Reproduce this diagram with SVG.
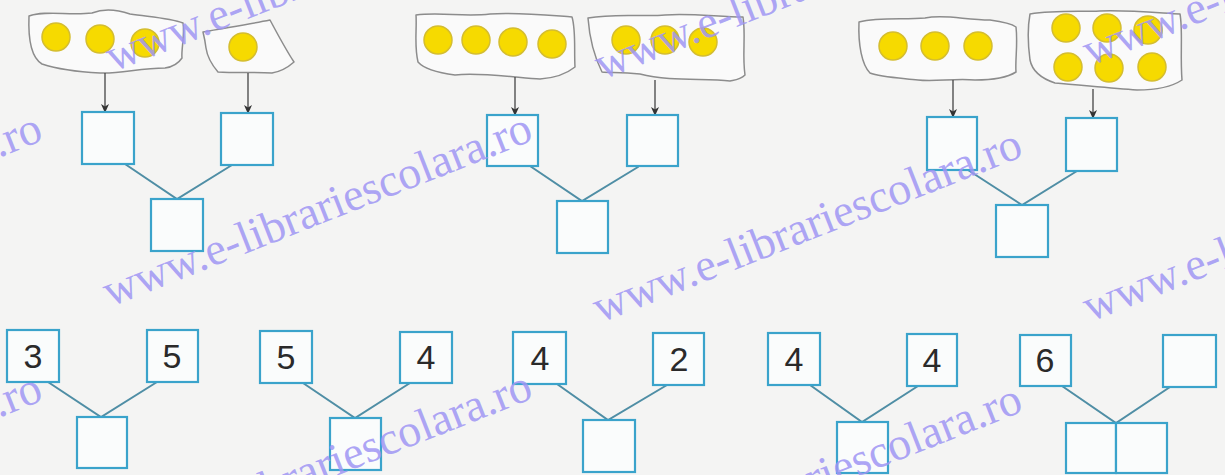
<svg xmlns="http://www.w3.org/2000/svg" width="1225" height="475" viewBox="0 0 1225 475">
<style>
.bg{fill:#f4f4f3}
.blob{fill:#fafafa;stroke:#8c8c8c;stroke-width:1.5;stroke-linejoin:round}
.dot{fill:#f6da00;stroke:#d4bd30;stroke-width:1.5}
.box{fill:#fafcfc;stroke:#3aa3cb;stroke-width:2.2}
.arr{stroke:#444;stroke-width:1.3;fill:none}
.link{stroke:#4f8ea5;stroke-width:2;fill:none;stroke-linecap:round}
.num{font-family:"Liberation Sans",Arial,sans-serif;font-size:34px;fill:#2a2a2a;text-anchor:middle}
.wm{font-family:"Liberation Serif","Times New Roman",serif;font-size:46px;fill:#9f96f4;fill-opacity:0.85}
</style>
<defs>
<marker id="ah" markerWidth="9" markerHeight="9" refX="8" refY="4.5" orient="auto" markerUnits="userSpaceOnUse">
<path d="M0,0.5 L9,4.5 L0,8.5 L2.5,4.5 Z" fill="#333"/>
</marker>
</defs>
<rect class="bg" x="0" y="0" width="1225" height="475"/>

<g id="set1a">
<path class="blob" d="M29,16 C45,10 70,16 92,13 C105,8 118,10 130,14 C150,17 170,18 183,23 C185,35 181,50 182,58 C178,64 172,67 165,68 C140,68 120,74 100,73 C80,72 60,70 42,64 C32,58 28,40 29,16 Z"/>
<circle class="dot" cx="56" cy="37" r="14"/><circle class="dot" cx="100" cy="39" r="14"/><circle class="dot" cx="145" cy="43" r="14"/>
</g>
<g id="set1b">
<path class="blob" d="M203,32 C225,28 250,24 270,20 C278,35 286,50 294,62 C285,70 278,72 272,73 C255,72 235,73 218,72 C212,65 207,55 206,48 C205,40 204,36 203,32 Z"/>
<circle class="dot" cx="243" cy="47" r="14"/>
</g>
<g id="set2a">
<path class="blob" d="M416,15 C440,12 465,17 490,14 C515,12 545,15 572,17 C576,30 574,50 575,67 C565,75 555,78 540,79 C520,78 480,72 455,75 C440,73 425,70 418,62 C414,45 417,30 416,15 Z"/>
<circle class="dot" cx="438" cy="40" r="14"/><circle class="dot" cx="476" cy="40" r="14"/><circle class="dot" cx="513" cy="42" r="14"/><circle class="dot" cx="552" cy="44" r="14"/>
</g>
<g id="set2b">
<path class="blob" d="M588,18 C615,13 645,17 665,15 C690,13 720,17 743,17 C746,35 742,55 745,75 C740,80 735,80 730,81 C705,78 670,82 640,74 C620,72 610,73 602,72 C596,60 590,45 588,18 Z"/>
<circle class="dot" cx="626" cy="40" r="14"/><circle class="dot" cx="665" cy="40" r="14"/><circle class="dot" cx="703" cy="42" r="14"/>
</g>
<g id="set3a">
<path class="blob" d="M859,22 C880,17 905,20 925,18 C945,14 965,20 990,20 C1005,22 1012,24 1016,27 C1018,45 1015,60 1016,72 C1005,79 990,80 975,80 C955,78 935,82 918,80 C900,78 880,77 870,73 C862,65 858,45 859,22 Z"/>
<circle class="dot" cx="893" cy="46" r="14"/><circle class="dot" cx="935" cy="46" r="14"/><circle class="dot" cx="978" cy="46" r="14"/>
</g>
<g id="set3b">
<path class="blob" d="M1030,14 C1055,10 1080,12 1100,11 C1130,10 1160,13 1180,14 C1183,30 1180,55 1182,80 C1170,88 1155,90 1137,90 C1110,88 1080,85 1055,83 C1040,78 1032,70 1030,60 C1028,45 1027,30 1030,14 Z"/>
<circle class="dot" cx="1066" cy="28" r="14"/><circle class="dot" cx="1107" cy="28" r="14"/><circle class="dot" cx="1148" cy="30" r="14"/>
<circle class="dot" cx="1068" cy="67" r="14"/><circle class="dot" cx="1109" cy="68" r="14"/><circle class="dot" cx="1152" cy="67" r="14"/>
</g>

<g id="connectors">
<line class="arr" x1="105" y1="73" x2="105" y2="112" marker-end="url(#ah)"/>
<line class="arr" x1="248" y1="73" x2="248" y2="113" marker-end="url(#ah)"/>
<line class="arr" x1="515" y1="77" x2="515" y2="115" marker-end="url(#ah)"/>
<line class="arr" x1="655" y1="80" x2="655" y2="115" marker-end="url(#ah)"/>
<line class="arr" x1="953" y1="80" x2="953" y2="117" marker-end="url(#ah)"/>
<line class="arr" x1="1093" y1="89" x2="1093" y2="118" marker-end="url(#ah)"/>
<path class="link" d="M125,164 L177,199 L232,165"/>
<path class="link" d="M530,166 L582,201 L638,167"/>
<path class="link" d="M968,170 L1022,205 L1077,171"/>
<path class="link" d="M48,382 L101,417 L157,382"/>
<path class="link" d="M303,383 L355,418 L410,383"/>
<path class="link" d="M557,384 L608,420 L667,385"/>
<path class="link" d="M810,385 L862,422 L918,386"/>
<path class="link" d="M1062,386 L1116,423 L1170,387"/>
</g>

<g id="tree1">
<rect class="box" x="82" y="112" width="52" height="52"/>
<rect class="box" x="221" y="113" width="52" height="52"/>
<rect class="box" x="151" y="199" width="52" height="52"/>
</g>
<g id="tree2">
<rect class="box" x="487" y="115" width="51" height="51"/>
<rect class="box" x="627" y="115" width="51" height="51"/>
<rect class="box" x="557" y="201" width="51" height="52"/>
</g>
<g id="tree3">
<rect class="box" x="927" y="117" width="50" height="53"/>
<rect class="box" x="1066" y="118" width="51" height="53"/>
<rect class="box" x="996" y="205" width="52" height="52"/>
</g>
<g id="tree4">
<rect class="box" x="7" y="330" width="52" height="52"/><text class="num" x="33" y="368">3</text>
<rect class="box" x="147" y="330" width="51" height="52"/><text class="num" x="172" y="368">5</text>
<rect class="box" x="77" y="417" width="50" height="51"/>
</g>
<g id="tree5">
<rect class="box" x="260" y="331" width="52" height="52"/><text class="num" x="286" y="369">5</text>
<rect class="box" x="400" y="332" width="52" height="51"/><text class="num" x="426" y="369">4</text>
<rect class="box" x="330" y="418" width="51" height="52"/>
</g>
<g id="tree6">
<rect class="box" x="513" y="332" width="53" height="52"/><text class="num" x="540" y="370">4</text>
<rect class="box" x="653" y="333" width="51" height="52"/><text class="num" x="679" y="371">2</text>
<rect class="box" x="583" y="420" width="52" height="52"/>
</g>
<g id="tree7">
<rect class="box" x="768" y="333" width="52" height="52"/><text class="num" x="794" y="371">4</text>
<rect class="box" x="907" y="334" width="50" height="52"/><text class="num" x="932" y="372">4</text>
<rect class="box" x="837" y="422" width="51" height="51"/>
</g>
<g id="tree8">
<rect class="box" x="1020" y="335" width="51" height="51"/><text class="num" x="1045" y="372">6</text>
<rect class="box" x="1163" y="335" width="53" height="52"/>
<rect class="box" x="1066" y="423" width="50" height="50"/>
<rect class="box" x="1116" y="423" width="51" height="50"/>
</g>

<g id="watermark">
<text class="wm" transform="translate(113,72) rotate(-21.5)">www.e-librariescolara.ro</text>
<text class="wm" transform="translate(602,80) rotate(-21.5)">www.e-librariescolara.ro</text>
<text class="wm" transform="translate(1090,66) rotate(-21.5)">www.e-librariescolara.ro</text>
<text class="wm" transform="translate(-380,307) rotate(-21.5)">www.e-librariescolara.ro</text>
<text class="wm" transform="translate(110,307) rotate(-21.5)">www.e-librariescolara.ro</text>
<text class="wm" transform="translate(600,323) rotate(-21.5)">www.e-librariescolara.ro</text>
<text class="wm" transform="translate(1090,322) rotate(-21.5)">www.e-librariescolara.ro</text>
<text class="wm" transform="translate(-380,567) rotate(-21.5)">www.e-librariescolara.ro</text>
<text class="wm" transform="translate(110,565) rotate(-21.5)">www.e-librariescolara.ro</text>
<text class="wm" transform="translate(600,578) rotate(-21.5)">www.e-librariescolara.ro</text>
</g>
</svg>
